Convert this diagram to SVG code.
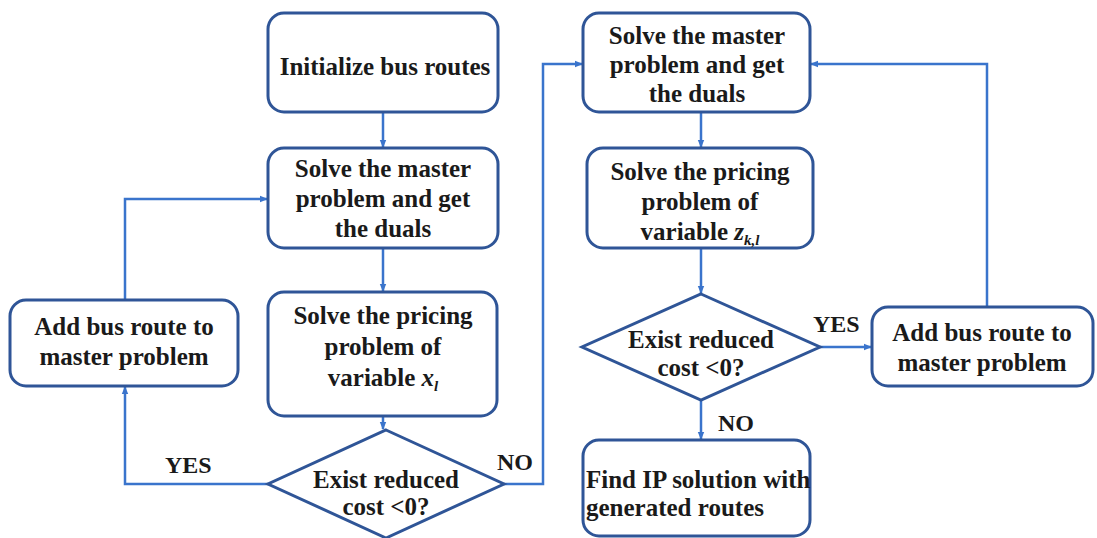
<svg xmlns="http://www.w3.org/2000/svg" width="1097" height="538" viewBox="0 0 1097 538">
<style>
.box{fill:#fff;stroke:#2f5597;stroke-width:3}
.t{font-family:"Liberation Serif","Times New Roman",serif;font-weight:bold;font-size:25px;fill:#1a1a1a;text-anchor:middle}
.tl{font-family:"Liberation Serif","Times New Roman",serif;font-weight:bold;font-size:25px;fill:#1a1a1a}
.lbl{font-family:"Liberation Serif","Times New Roman",serif;font-weight:bold;font-size:24px;fill:#1a1a1a}
.c{fill:none;stroke:#3a74cc;stroke-width:2.5;marker-end:url(#ah)}
.ci{font-style:italic}
</style>
<defs>
<marker id="ah" markerWidth="8" markerHeight="8" refX="7" refY="4" orient="auto" markerUnits="userSpaceOnUse">
<path d="M0,0.8 L8,4 L0,7.2 Z" fill="#3a74cc"/>
</marker>
</defs>
<g id="connectors">
<path class="c" d="M383,112 V147"/>
<path class="c" d="M383,248 V291"/>
<path class="c" d="M383,416 V429"/>
<path class="c" d="M268,484 H125 V387"/>
<path class="c" d="M125,300 V199 H267"/>
<path class="c" d="M504,484 H543 V64 H582"/>
<path class="c" d="M701,112 V147"/>
<path class="c" d="M701,248 V293"/>
<path class="c" d="M820,347 H871"/>
<path class="c" d="M987,307 V64 H811"/>
<path class="c" d="M701,400 V439"/>
</g>
<g id="n_init">
<rect class="box" x="268" y="13" width="230" height="99" rx="16"/>
<text class="t" x="385" y="75">Initialize bus routes</text>
</g>
<g id="n_master1">
<rect class="box" x="268" y="148" width="230" height="100" rx="16"/>
<text class="t" x="383" y="177">Solve the master</text>
<text class="t" x="383" y="207">problem and get</text>
<text class="t" x="383" y="237">the duals</text>
</g>
<g id="n_pricing1">
<rect class="box" x="268" y="292" width="229" height="124" rx="16"/>
<text class="t" x="383" y="324">Solve the pricing</text>
<text class="t" x="383" y="355">problem of</text>
<text class="t" x="383" y="386">variable <tspan class="ci">x<tspan font-size="15" dy="5">l</tspan></tspan></text>
</g>
<g id="n_add1">
<rect class="box" x="10" y="300" width="228" height="86" rx="16"/>
<text class="t" x="124" y="335">Add bus route to</text>
<text class="t" x="124" y="365">master problem</text>
</g>
<g id="n_dec1">
<polygon class="box" points="386,430 504,484 386,538 268,484"/>
<text class="t" x="386" y="488">Exist reduced</text>
<text class="t" x="386" y="515">cost &lt;0?</text>
</g>
<g id="n_master2">
<rect class="box" x="583" y="13" width="227" height="99" rx="16"/>
<text class="t" x="697" y="44">Solve the master</text>
<text class="t" x="697" y="73">problem and get</text>
<text class="t" x="697" y="102">the duals</text>
</g>
<g id="n_pricing2">
<rect class="box" x="587" y="148" width="226" height="100" rx="16"/>
<text class="t" x="700" y="180">Solve the pricing</text>
<text class="t" x="700" y="210">problem of</text>
<text class="t" x="700" y="240">variable <tspan class="ci">z<tspan font-size="15" dy="5">k,l</tspan></tspan></text>
</g>
<g id="n_dec2">
<polygon class="box" points="701,294 820,347 701,400 582,347"/>
<text class="t" x="701" y="348">Exist reduced</text>
<text class="t" x="701" y="376">cost &lt;0?</text>
</g>
<g id="n_add2">
<rect class="box" x="872" y="307" width="221" height="79" rx="16"/>
<text class="t" x="982" y="341">Add bus route to</text>
<text class="t" x="982" y="371">master problem</text>
</g>
<g id="n_ip">
<rect class="box" x="583" y="440" width="227" height="96" rx="16"/>
<text class="tl" x="586" y="488">Find IP solution with</text>
<text class="tl" x="586" y="516">generated routes</text>
</g>
<g id="labels">
<text class="lbl" x="165" y="473">YES</text>
<text class="lbl" x="497" y="470">NO</text>
<text class="lbl" x="813" y="332">YES</text>
<text class="lbl" x="718" y="431">NO</text>
</g>
</svg>
